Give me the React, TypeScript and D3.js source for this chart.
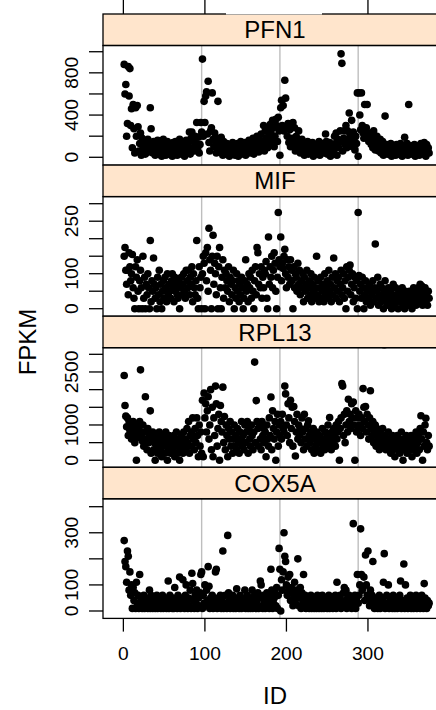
import React, { useEffect } from 'react';
import * as d3 from 'd3';

const GENES = ['PFN1', 'MIF', 'RPL13', 'COX5A'];

const PFN1 = [
  880, 600, 690, 200, 320, 860, 580, 840, 300, 460, 90, 500,
  270, 40, 470, 200, 490, 290, 60, 130, 230, 20, 180, 100,
  60, 150, 30, 120, 80, 170, 50, 140, 470, 270, 100, 40,
  150, 70, 20, 130, 90, 160, 30, 110, 60, 140, 10, 100,
  170, 50, 120, 20, 90, 150, 70, 30, 130, 60, 110, 10,
  140, 80, 40, 150, 100, 20, 130, 60, 170, 90, 30, 120,
  70, 140, 10, 100, 160, 50, 120, 80, 240, 30, 180, 240,
  90, 150, 60, 200, 130, 330, 80, 190, 40, 120, 330, 240,
  930, 200, 530, 330, 580, 620, 220, 720, 140, 60, 250, 280,
  610, 170, 100, 230, 150, 40, 180, 530, 120, 80, 60, 190,
  110, 20, 150, 70, 100, 30, 130, 60, 90, 10, 120, 50,
  80, 140, 40, 110, 20, 90, 60, 130, 10, 100, 70, 150,
  30, 120, 50, 90, 140, 20, 110, 60, 80, 160, 40, 130,
  70, 100, 180, 30, 150, 90, 60, 200, 120, 50, 170, 80,
  220, 110, 140, 300, 60, 250, 180, 270, 90, 200, 130, 310,
  240, 160, 350, 280, 100, 200, 360, 300, 150, 380, 250, 20,
  470, 540, 300, 490, 250, 730, 560, 280, 200, 320, 140, 260,
  100, 300, 180, 330, 120, 280, 60, 200, 150, 90, 250, 130,
  40, 110, 170, 70, 140, 20, 120, 90, 60, 150, 30, 100,
  130, 50, 80, 140, 10, 110, 70, 30, 120, 90, 50, 150,
  20, 100, 60, 130, 80, 40, 110, 220, 150, 30, 90, 60,
  140, 10, 120, 70, 100, 50, 200, 130, 230, 20, 170, 90,
  140, 250, 980, 890, 60, 180, 250, 120, 300, 90, 250, 170,
  420, 210, 130, 350, 100, 240, 160, 70, 200, 130, 610, 10,
  610, 400, 260, 610, 300, 230, 180, 500, 250, 280, 500, 200,
  150, 230, 210, 120, 180, 90, 250, 160, 70, 140, 200, 110,
  60, 130, 170, 40, 100, 150, 20, 90, 390, 60, 120, 30,
  100, 50, 80, 130, 10, 70, 110, 40, 90, 20, 120, 60,
  100, 30, 80, 130, 50, 10, 110, 70, 190, 40, 90, 130,
  20, 500, 80, 60, 110, 30, 100, 50, 120, 10, 90, 70,
  40, 110, 20, 80, 130, 50, 100, 30, 140, 70, 10, 120,
  60, 90, 40,
];

const MIF = [
  150, 175, 110, 70, 110, 40, 160, 120, 80, 100, 155, 60,
  30, 0, 120, 90, 140, 50, 0, 80, 110, 60, 0, 150,
  30, 90, 0, 70, 40, 100, 60, 0, 195, 20, 80, 50,
  145, 70, 30, 60, 0, 90, 40, 110, 20, 70, 0, 50,
  80, 30, 90, 60, 20, 100, 40, 70, 50, 30, 80, 100,
  60, 20, 90, 50, 70, 40, 30, 80, 0, 60, 90, 40,
  70, 100, 50, 30, 110, 80, 60, 110, 40, 90, 70, 120,
  20, 100, 60, 40, 80, 195, 30, 0, 120, 60, 90, 0,
  100, 150, 130, 0, 160, 80, 175, 50, 230, 140, 110, 0,
  150, 210, 70, 130, 100, 40, 150, 0, 120, 175, 60, 0,
  90, 140, 30, 110, 60, 100, 80, 50, 120, 20, 90, 70,
  40, 80, 110, 0, 60, 30, 100, 50, 80, 20, 70, 40,
  90, 60, 0, 30, 80, 140, 50, 70, 20, 100, 60, 90,
  30, 110, 50, 0, 80, 120, 40, 175, 160, 70, 100, 60,
  120, 30, 90, 60, 110, 100, 135, 30, 0, 205, 70, 120,
  90, 150, 60, 110, 160, 130, 50, 0, 90, 275, 140, 120,
  205, 80, 130, 115, 150, 170, 100, 60, 140, 90, 120, 70,
  140, 110, 80, 0, 120, 60, 100, 90, 50, 130, 70, 110,
  40, 80, 60, 100, 20, 90, 50, 70, 110, 30, 60, 80,
  40, 100, 20, 70, 50, 90, 30, 60, 150, 40, 80, 20,
  60, 90, 30, 50, 70, 20, 100, 40, 60, 80, 30, 110,
  50, 70, 20, 90, 40, 145, 60, 100, 30, 80, 50, 90,
  20, 70, 110, 40, 60, 100, 30, 80, 0, 120, 50, 90,
  110, 125, 40, 70, 100, 20, 60, 90, 30, 80, 0, 275,
  95, 50, 70, 30, 90, 60, 0, 40, 80, 20, 60, 50,
  30, 70, 10, 50, 40, 80, 20, 60, 185, 30, 50, 90,
  10, 40, 70, 20, 60, 30, 0, 50, 80, 20, 40, 10,
  60, 30, 20, 50, 0, 40, 70, 10, 30, 60, 20, 40,
  0, 50, 30, 20, 40, 60, 10, 30, 0, 50, 20, 40,
  30, 10, 50, 20, 40, 0, 30, 60, 20, 40, 10, 50,
  30, 60, 20, 70, 40, 65, 10, 50, 30, 60, 20, 40,
  10, 50, 30,
];

const RPL13 = [
  2400, 1550, 1250, 950, 1200, 700, 1100, 850, 1000, 600, 900, 1100,
  750, 500, 1000, 0, 800, 650, 900, 1100, 2560, 700, 550, 1000,
  400, 800, 1800, 600, 300, 900, 500, 700, 1400, 200, 600, 800,
  300, 500, 0, 700, 400, 200, 600, 800, 300, 500, 100, 700,
  400, 600, 200, 800, 500, 0, 300, 700, 400, 200, 600, 500,
  300, 700, 100, 500, 800, 400, 200, 600, 0, 300, 700, 500,
  200, 800, 400, 600, 300, 900, 500, 1100, 200, 700, 400, 800,
  1200, 600, 300, 900, 500, 1200, 700, 100, 1000, 400, 800, 200,
  1700, 100, 1900, 1200, 1600, 800, 1400, 1800, 600, 1000, 2000, 300,
  1500, 100, 1200, 700, 2100, 1600, 400, 900, 1300, 0, 1550, 1100,
  800, 2070, 500, 1240, 300, 1000, 700, 100, 900, 600, 1100, 400,
  800, 200, 600, 1000, 400, 700, 300, 900, 500, 200, 800, 600,
  1100, 400, 700, 300, 1000, 500, 800, 1100, 200, 900, 600, 400,
  1000, 700, 300, 800, 2780, 500, 1690, 1100, 900, 400, 1000, 600,
  300, 1100, 700, 900, 500, 800, 100, 1000, 600, 400, 1200, 700,
  1790, 300, 1400, 900, 600, 1100, 0, 800, 1300, 400, 1000, 700,
  1100, 600, 1300, 900, 800, 2100, 1880, 1000, 700, 1600, 1200, 500,
  1700, 900, 1500, 400, 1520, 1100, 120, 800, 1300, 600, 1000, 700,
  900, 500, 1200, 800, 300, 1300, 600, 900, 400, 1000, 1120, 700,
  500, 800, 300, 600, 900, 200, 700, 400, 800, 500, 300, 600,
  700, 200, 500, 900, 400, 600, 300, 800, 500, 700, 1000, 400,
  1210, 600, 300, 800, 500, 900, 700, 400, 1000, 600, 800, 1100,
  0, 900, 1200, 2170, 2100, 700, 1300, 500, 1000, 1400, 800, 1730,
  1100, 1300, 900, 1600, 1200, 1650, 1000, 0, 1400, 800, 1200, 900,
  1300, 1000, 700, 1200, 900, 2030, 1500, 1100, 1520, 800, 1300, 1000,
  600, 1200, 1970, 900, 700, 1100, 500, 800, 1000, 400, 900, 600,
  700, 300, 800, 500, 600, 900, 400, 3270, 700, 300, 600, 500,
  800, 400, 600, 200, 500, 700, 300, 600, 100, 500, 400, 700,
  300, 600, 200, 500, 800, 400, 0, 600, 300, 500, 700, 200,
  600, 400, 500, 300, 700, 100, 500, 600, 300, 400, 800, 200,
  500, 700, 300, 900, 1260, 600, 0, 800, 400, 1000, 1190, 500,
  300, 700, 400,
];

const COX5A = [
  270, 190, 170, 110, 230, 210, 80, 150, 60, 100, 10, 90,
  40, 70, 10, 110, 30, 60, 10, 140, 20, 50, 10, 40,
  60, 10, 30, 50, 20, 10, 40, 80, 10, 60, 30, 10,
  50, 20, 10, 40, 60, 10, 30, 20, 50, 10, 40, 60,
  10, 30, 50, 20, 10, 40, 115, 10, 60, 30, 20, 10,
  50, 10, 90, 40, 20, 10, 60, 30, 130, 10, 50, 20,
  120, 40, 10, 60, 100, 30, 10, 50, 20, 80, 10, 145,
  105, 40, 10, 60, 30, 80, 10, 50, 20, 70, 140, 150,
  10, 60, 30, 100, 20, 80, 40, 170, 95, 10, 50, 30,
  60, 10, 40, 20, 150, 160, 10, 50, 30, 20, 60, 10,
  40, 230, 10, 30, 60, 20, 10, 290, 70, 40, 10, 50,
  20, 60, 10, 30, 50, 10, 85, 20, 40, 10, 60, 30,
  10, 50, 20, 40, 80, 10, 30, 60, 10, 20, 50, 10,
  40, 80, 10, 30, 60, 20, 10, 40, 70, 10, 50, 115,
  100, 20, 10, 60, 30, 10, 50, 70, 20, 40, 10, 60,
  160, 80, 10, 30, 50, 70, 20, 90, 10, 60, 240, 160,
  0, 120, 80, 150, 300, 210, 190, 100, 60, 130, 80, 140,
  40, 90, 70, 20, 60, 110, 30, 80, 50, 200, 20, 60,
  90, 10, 70, 40, 140, 30, 60, 10, 50, 20, 40, 10,
  30, 60, 10, 20, 50, 10, 40, 20, 10, 60, 30, 10,
  50, 20, 10, 60, 30, 10, 40, 20, 50, 10, 30, 60,
  10, 40, 20, 30, 10, 50, 20, 60, 10, 110, 30, 40,
  20, 60, 10, 40, 30, 70, 90, 20, 80, 10, 50, 30,
  60, 20, 40, 10, 50, 335, 20, 60, 10, 40, 140, 30,
  60, 100, 315, 140, 80, 90, 130, 40, 215, 100, 60, 230,
  50, 20, 80, 40, 60, 190, 30, 10, 50, 20, 40, 10,
  30, 60, 10, 40, 20, 50, 110, 220, 10, 30, 60, 20,
  100, 10, 40, 20, 30, 10, 60, 20, 10, 40, 50, 10,
  30, 20, 60, 115, 10, 40, 20, 180, 10, 100, 30, 50,
  10, 40, 20, 60, 10, 30, 50, 10, 20, 40, 60, 10,
  30, 50, 20, 10, 40, 60, 20, 10, 105, 50, 30, 10,
  40, 20, 30,
];

const SERIES = [PFN1, MIF, RPL13, COX5A];

const X_TICKS = [0, 100, 200, 300];
const V_LINES = [96, 192, 288];

const PFN1_TICKS = [0, 200, 400, 600, 800, 1000];
const PFN1_LABELS = [0, 400, 800];
const MIF_TICKS = [0, 50, 100, 150, 200, 250, 300];
const MIF_LABELS = [0, 100, 250];
const RPL13_TICKS = [0, 500, 1000, 1500, 2000, 2500, 3000];
const RPL13_LABELS = [0, 1000, 2500];
const COX5A_TICKS = [0, 100, 200, 300, 400];
const COX5A_LABELS = [0, 100, 300];

const Y_TICKS = [PFN1_TICKS, MIF_TICKS, RPL13_TICKS, COX5A_TICKS];
const Y_LABELS = [PFN1_LABELS, MIF_LABELS, RPL13_LABELS, COX5A_LABELS];
const Y_DOMAINS: [number, number][] = [
  [-74, 1059],
  [-21.4, 320.3],
  [-198, 3187],
  [-28.4, 430.3],
];

const W = 436;
const H = 710;
const LEFT = 103;
const RIGHT = 460;
const X_MIN = -25;
const X_MAX = 412.9;
const TOP0 = 14;
const STEP = 151.1;
const STRIP_H = 31.5;
const PLOT_H = 119.6;
const FONT = '"Liberation Sans", Arial, Helvetica, sans-serif';

export default function App() {
  useEffect(() => {
    document.body.style.margin = '0';
    document.body.style.overflow = 'hidden';
    document.documentElement.style.overflow = 'hidden';
  }, []);

  const x = d3.scaleLinear().domain([X_MIN, X_MAX]).range([LEFT, RIGHT]);
  const lastBottom = TOP0 + 3 * STEP + STRIP_H + PLOT_H;
  const mid = x(186);

  return (
    <svg
      width={W}
      height={H}
      style={{ position: 'fixed', left: 0, top: 0, background: '#fff', overflow: 'hidden', display: 'block' }}
      fontFamily={FONT}
    >
      <rect x={0} y={0} width={W} height={H} fill="#fff" />
      {X_TICKS.map((t) => (
        <line key={'tt' + t} x1={x(t)} x2={x(t)} y1={0} y2={TOP0} stroke="#000" strokeWidth={1.3} />
      ))}
      {GENES.map((g, i) => {
        const sTop = TOP0 + i * STEP;
        const pTop = sTop + STRIP_H;
        const pBot = pTop + PLOT_H;
        const y = d3.scaleLinear().domain(Y_DOMAINS[i]).range([pBot, pTop]);
        const data = SERIES[i];
        const clipId = 'clip' + i;
        return (
          <g key={g}>
            <defs>
              <clipPath id={clipId}>
                <rect x={LEFT} y={pTop} width={RIGHT - LEFT} height={PLOT_H} />
              </clipPath>
            </defs>
            <g clipPath={`url(#${clipId})`}>
              {V_LINES.map((v) => (
                <line key={'v' + v} x1={x(v)} x2={x(v)} y1={pTop} y2={pBot} stroke="#bebebe" strokeWidth={1.4} />
              ))}
              {data.map((d, j) => (
                <circle key={j} cx={x(j + 1)} cy={y(d)} r={3.8} fill="#000" />
              ))}
            </g>
            <rect x={LEFT} y={sTop} width={RIGHT - LEFT} height={STRIP_H} fill="#ffe5cc" stroke="#000" strokeWidth={1.3} />
            <text x={mid} y={sTop + STRIP_H / 2 + 8.6} textAnchor="middle" fontSize={24} fill="#000">
              {g}
            </text>
            <rect x={LEFT} y={pTop} width={RIGHT - LEFT} height={PLOT_H} fill="none" stroke="#000" strokeWidth={1.3} />
            {Y_TICKS[i].map((t) => (
              <line key={'yt' + t} x1={89} x2={LEFT} y1={y(t)} y2={y(t)} stroke="#000" strokeWidth={1.3} />
            ))}
            {Y_LABELS[i].map((t) => (
              <text
                key={'yl' + t}
                transform={`translate(78,${y(t)}) rotate(-90)`}
                textAnchor="middle"
                fontSize={19.2}
                fill="#000"
              >
                {t}
              </text>
            ))}
          </g>
        );
      })}
      <rect x={226} y={-1} width={96} height={15.5} fill="#fff" />
      {X_TICKS.map((t) => (
        <g key={'bt' + t}>
          <line x1={x(t)} x2={x(t)} y1={lastBottom} y2={lastBottom + 13.2} stroke="#000" strokeWidth={1.3} />
          <text x={x(t)} y={659.5} textAnchor="middle" fontSize={19.2} fill="#000">
            {t}
          </text>
        </g>
      ))}
      <text x={mid} y={703.5} textAnchor="middle" fontSize={24} fill="#000">
        ID
      </text>
      <text transform="translate(36,342) rotate(-90)" textAnchor="middle" fontSize={24} fill="#000">
        FPKM
      </text>
    </svg>
  );
}
